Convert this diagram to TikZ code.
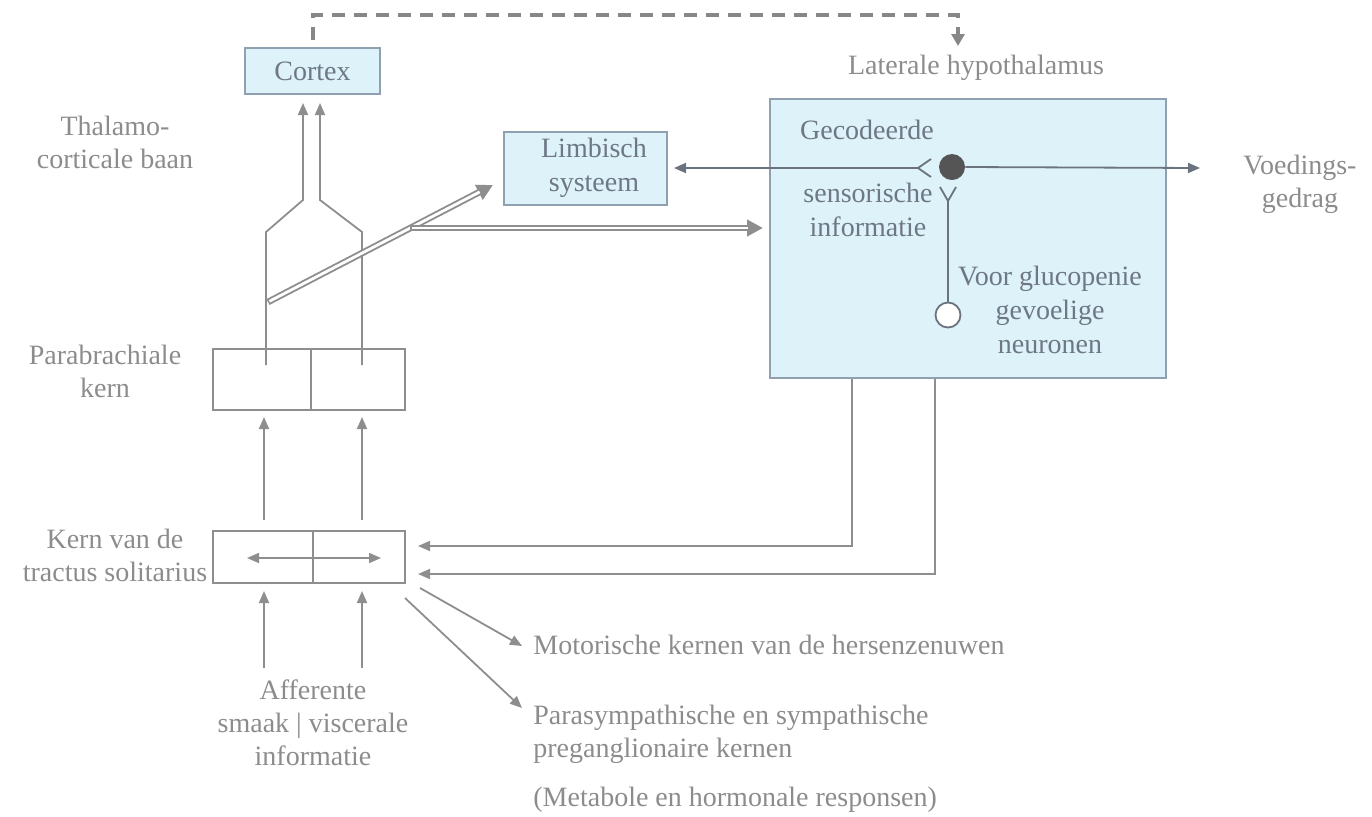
\documentclass[tikz,border=0pt]{standalone}
\usepackage{fontspec}
\setmainfont{Liberation Serif}
\usetikzlibrary{arrows.meta,calc}
\definecolor{lineg}{HTML}{8E8E8E}
\definecolor{txtg}{HTML}{8C8C8C}
\definecolor{boxfill}{HTML}{DDF2F9}
\definecolor{boxline}{HTML}{8FA1B0}
\definecolor{boxtxt}{HTML}{6E7786}
\definecolor{neur}{HTML}{6A737E}
\definecolor{dotc}{HTML}{555555}
\begin{document}
\begin{tikzpicture}[x=0.5pt,y=-0.5pt,
  lbl/.style={text=txtg, font=\fontsize{14}{16.5}\selectfont, align=center, inner sep=0},
  btxt/.style={text=boxtxt, font=\fontsize{14}{17}\selectfont, align=center, inner sep=0},
  bluebox/.style={draw=boxline, fill=boxfill, line width=0.8pt, inner sep=0},
  cell/.style={draw=lineg, line width=0.8pt, inner sep=0},
  conn/.style={draw=lineg, line width=0.9pt},
  arr/.style={conn, -{Triangle[length=6pt,width=5pt]}},
  narr/.style={draw=neur, line width=0.9pt, -{Triangle[length=6pt,width=5pt]}},
  dblout/.style={draw=lineg, line width=3.3pt, -{Triangle[length=8pt,width=8pt]}},
  dblin/.style={draw=white, line width=1.4pt, shorten >=7.5pt, shorten <=0.8pt},
  dashline/.style={draw=lineg!95!black, line width=1.9pt, dash pattern=on 6.5pt off 4.5pt, -{Triangle[length=6pt,width=6.5pt]}}
]
\useasboundingbox (0,0) rectangle (1372,816);

% boxes
\node[bluebox, minimum width=67.5pt, minimum height=23pt] (cortex) at (312.5,71) {};
\node[btxt] (cortext) at (cortex.center) {Cortex};
\node[bluebox, minimum width=81.5pt, minimum height=36.5pt] (limb) at (585.5,168.5) {};
\node[btxt] (limbtext) at (594,168) {Limbisch\\systeem};
\node[bluebox, minimum width=198pt, minimum height=139.5pt] (big) at (968,238.5) {};

\node[cell, minimum width=96pt, minimum height=30.5pt] (pb) at (309,379.5) {};
\draw[cell] (pb.north) ++(2,0) coordinate (pbdt) -- (pbdt |- pb.south);
\node[cell, minimum width=96pt, minimum height=26pt] (nts) at (309,557) {};
\draw[cell] (nts.north) ++(4,0) coordinate (ntsdt) -- (ntsdt |- nts.south);

% labels
\node[lbl] (lh) at (976,68) {Laterale hypothalamus};
\node[lbl] (thal) at (115,142) {Thalamo-\\corticale baan};
\node[lbl] (pbl) at (105,371) {Parabrachiale\\kern};
\node[lbl] (ntsl) at (115,555) {Kern van de\\tractus solitarius};
\node[lbl] (aff) at (313,723) {Afferente\\smaak | viscerale\\informatie};
\node[lbl] (voed) at (1300,184) {Voedings-\\gedrag};
\node[lbl, anchor=west] (mot) at (533,645) {Motorische kernen van de hersenzenuwen};
\node[lbl, anchor=west, align=left] (para) at (533,734) {Parasympathische en sympathische\\preganglionaire kernen};
\node[lbl, anchor=west] (meta) at (533,800) {(Metabole en hormonale responsen)};

% texts in big box
\node[btxt] (gec) at (867,130) {Gecodeerde};
\node[btxt] (sens) at (868,210) {sensorische\\informatie};
\node[btxt] (gluc) at (1050,310) {Voor glucopenie\\gevoelige\\neuronen};

% neurons
\node[circle, fill=dotc, minimum size=13pt, inner sep=0] (dot) at (952,167) {};
\node[circle, draw=neur, fill=white, line width=0.9pt, minimum size=12.5pt, inner sep=0] (soma) at (948,315) {};
\coordinate (fork) at (918,168);
\draw[narr] (dot.east) -- (1200,168) coordinate (voedtip);
\draw[narr] (fork) -- (674,168);
\draw[draw=neur, line width=0.9pt] (931,159) -- (fork) -- (931,177);
\coordinate (yfork) at (948,201);
\draw[draw=neur, line width=0.9pt] (940,187) -- (yfork) -- (956,187);
\draw[draw=neur, line width=0.9pt] (yfork) -- (soma.north);

% dashed cortex -> LH
\coordinate (dstart) at (313,40);
\coordinate (dend) at (958,46);
\draw[dashline] (dstart) -- (313,15) -| (dend);

% thalamocortical
\coordinate (tl0) at (266,365);
\coordinate (tr0) at (362,365);
\draw[arr] (tl0) -- (266,232) -- (303,200) -- (303,103);
\draw[arr] (tr0) -- (362,232) -- (320,200) -- (320,103);

% double arrows
\coordinate (d0) at (268,302);
\coordinate (d1) at (493,185);
\coordinate (h0) at (410,228);
\coordinate (h1) at (763,228);
\draw[dblout] (d0) -- (d1);
\draw[dblin] (d0) -- (d1);
\draw[dblout] (h0) -- (h1);
\draw[dblin] (h0) -- (h1);

% NTS -> PB
\draw[arr] (264,520) -- (264,417);
\draw[arr] (362,520) -- (362,417);
% afferent
\draw[arr] (264,668) -- (264,591);
\draw[arr] (362,668) -- (362,591);
% inside NTS
\draw[conn, {Triangle[length=6pt,width=5pt]}-{Triangle[length=6pt,width=5pt]}] (247,558) -- (381,558);

% return from big box
\draw[arr] (big.south -| 852,0) -- (852,546) -- (418,546);
\draw[arr] (big.south -| 935,0) -- (935,574) -- (418,574);

% outputs
\draw[arr] (420,588) -- (522,646);
\draw[arr] (405,598) -- (522,708);
\end{tikzpicture}
\end{document}
